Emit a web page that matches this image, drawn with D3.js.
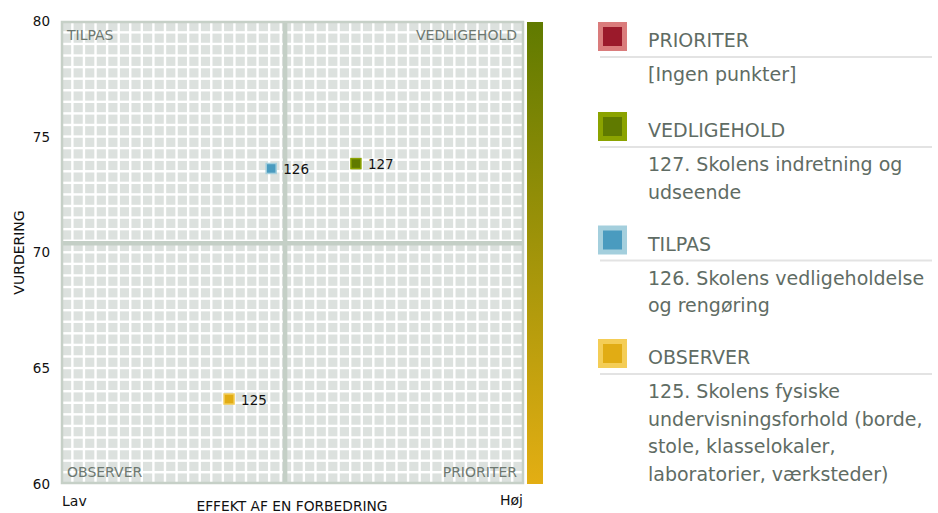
<!DOCTYPE html>
<html>
<head>
<meta charset="utf-8">
<script src="https://cdn.jsdelivr.net/npm/d3@7"></script>
<style>
  html, body { margin: 0; padding: 0; background: #fff; }
  svg { display: block; font-family: "DejaVu Sans", Verdana, sans-serif; }
</style>
</head>
<body>
<svg id="chart" width="938" height="513"></svg>
<script>
// Quadrant categories, legend order
const quadrants = ["PRIORITER", "VEDLIGEHOLD", "TILPAS", "OBSERVER"];
const quadrantFill = ["#9b1a2b", "#607a00", "#4a9bbf", "#e1ac14"];
const quadrantEdge = ["#da7c7c", "#8ba300", "#a4cfdd", "#f4cd56"];

// Survey items: effect (0 = Lav, 100 = Høj) and rating
const pointIds = [125, 126, 127];
const pointEffect = [36.3, 45.4, 63.7];
const pointRating = [63.67, 73.63, 73.84];
const pointQuadrant = ["OBSERVER", "TILPAS", "VEDLIGEHOLD"];

// Legend descriptions, one array of lines per quadrant
const legendLines = [
  ["[Ingen punkter]"],
  ["127. Skolens indretning og", "udseende"],
  ["126. Skolens vedligeholdelse", "og rengøring"],
  ["125. Skolens fysiske", "undervisningsforhold (borde,", "stole, klasselokaler,", "laboratorier, værksteder)"]
];

const yTicks = [60, 65, 70, 75, 80];
const effectThreshold = 48.4;
const ratingThreshold = 70.4;

const svg = d3.select("#chart");
const plot = { left: 61, top: 21, right: 524, bottom: 484 };

const x = d3.scaleLinear().domain([0, 100]).range([plot.left, plot.right]);
const y = d3.scaleLinear().domain([60, 80]).range([plot.bottom, plot.top]);

// Plot background: tiled grid of light cells separated by white gaps
const nCells = 40;
const cw = (plot.right - plot.left) / nCells;
const ch = (plot.bottom - plot.top) / nCells;
svg.append("rect")
  .attr("x", plot.left).attr("y", plot.top)
  .attr("width", plot.right - plot.left).attr("height", plot.bottom - plot.top)
  .attr("fill", "#ffffff");
const cells = [];
for (let i = 0; i < nCells; i++) for (let j = 0; j < nCells; j++) cells.push([i, j]);
svg.append("g").selectAll("rect").data(cells).join("rect")
  .attr("x", d => plot.left + d[0] * cw + 1)
  .attr("y", d => plot.top + d[1] * ch + 1)
  .attr("width", cw - 2.4)
  .attr("height", ch - 2.4)
  .attr("fill", "#dce1de");

// Threshold lines dividing the four quadrants
svg.append("line")
  .attr("x1", x(effectThreshold)).attr("x2", x(effectThreshold))
  .attr("y1", plot.top).attr("y2", plot.bottom)
  .attr("stroke", "#c4cfc6").attr("stroke-width", 4.5);
svg.append("line")
  .attr("x1", plot.left).attr("x2", plot.right)
  .attr("y1", y(ratingThreshold)).attr("y2", y(ratingThreshold))
  .attr("stroke", "#c4cfc6").attr("stroke-width", 4.5);

// Frame
svg.append("rect")
  .attr("x", plot.left + 1).attr("y", plot.top + 1)
  .attr("width", plot.right - plot.left - 2).attr("height", plot.bottom - plot.top - 2)
  .attr("fill", "none").attr("stroke", "#c6d0c7").attr("stroke-width", 2.5);

// Quadrant captions in the corners
const qLabel = svg.append("g").attr("font-size", 14).attr("fill", "#6d7870");
qLabel.append("text").attr("x", plot.left + 6).attr("y", plot.top + 19).text("TILPAS");
qLabel.append("text").attr("x", plot.right - 7).attr("y", plot.top + 19).attr("text-anchor", "end").text("VEDLIGEHOLD");
qLabel.append("text").attr("x", plot.left + 6).attr("y", plot.bottom - 7).text("OBSERVER");
qLabel.append("text").attr("x", plot.right - 7).attr("y", plot.bottom - 7).attr("text-anchor", "end").text("PRIORITER");

// Colour scale bar to the right of the plot
const defs = svg.append("defs");
const grad = defs.append("linearGradient").attr("id", "scaleGrad")
  .attr("x1", 0).attr("x2", 0).attr("y1", 0).attr("y2", 1);
grad.append("stop").attr("offset", "0%").attr("stop-color", quadrantFill[1]);
grad.append("stop").attr("offset", "100%").attr("stop-color", "#e3ae13");
svg.append("rect")
  .attr("x", 527).attr("y", plot.top + 1)
  .attr("width", 16).attr("height", plot.bottom - plot.top - 1)
  .attr("fill", "url(#scaleGrad)");

// Y axis
const yAxis = svg.append("g")
  .attr("transform", `translate(${plot.left},0)`)
  .call(d3.axisLeft(y).tickValues(yTicks).tickSize(0).tickPadding(11).tickFormat(d3.format("d")));
yAxis.select(".domain").remove();
yAxis.selectAll("text").attr("font-size", 13.5).attr("fill", "#111").attr("font-family", "DejaVu Sans, sans-serif");

// Axis titles and end labels
svg.append("text")
  .attr("transform", `translate(24,${(plot.top + plot.bottom) / 2}) rotate(-90)`)
  .attr("text-anchor", "middle").attr("font-size", 14).attr("fill", "#111")
  .text("VURDERING");
svg.append("text")
  .attr("x", 292).attr("y", 511).attr("text-anchor", "middle")
  .attr("font-size", 13.8).attr("fill", "#111").text("EFFEKT AF EN FORBEDRING");
svg.append("text").attr("x", plot.left + 1).attr("y", 506)
  .attr("font-size", 14).attr("fill", "#111").text("Lav");
svg.append("text").attr("x", plot.right - 1).attr("y", 505).attr("text-anchor", "end")
  .attr("font-size", 14).attr("fill", "#111").text("Høj");

// Points
const points = pointIds.map((id, i) => ({
  id, effect: pointEffect[i], rating: pointRating[i], q: quadrants.indexOf(pointQuadrant[i])
}));
const pg = svg.append("g").selectAll("g").data(points).join("g")
  .attr("transform", d => `translate(${x(d.effect)},${y(d.rating)})`);
pg.append("rect")
  .attr("x", -5).attr("y", -5).attr("width", 10).attr("height", 10)
  .attr("fill", d => quadrantFill[d.q])
  .attr("stroke", d => quadrantEdge[d.q]).attr("stroke-width", 1.5);
pg.append("text")
  .attr("x", 12).attr("y", 5.5)
  .attr("font-size", 13.5).attr("fill", "#111")
  .text(d => d.id);

// Legend: one block per quadrant with swatch, heading, rule and item lines
const legend = svg.append("g").attr("fill", "#5f6c64");
let ly = 40;
quadrants.forEach((q, i) => {
  const g = legend.append("g");
  g.append("rect")
    .attr("x", 600.5).attr("y", ly - 15.5).attr("width", 24).attr("height", 24)
    .attr("fill", quadrantFill[i])
    .attr("stroke", quadrantEdge[i]).attr("stroke-width", 5);
  g.append("text").attr("x", 648).attr("y", ly + 7).attr("font-size", 19).text(q);
  g.append("line")
    .attr("x1", 600).attr("x2", 932).attr("y1", ly + 17).attr("y2", ly + 17)
    .attr("stroke", "#e3e3e3").attr("stroke-width", 2);
  legendLines[i].forEach((line, k) => {
    g.append("text").attr("x", 648).attr("y", ly + 41 + k * 27.5)
      .attr("font-size", 19).text(line);
  });
  ly += 90 + (legendLines[i].length - 1) * 23.5;
});
</script>
</body>
</html>
